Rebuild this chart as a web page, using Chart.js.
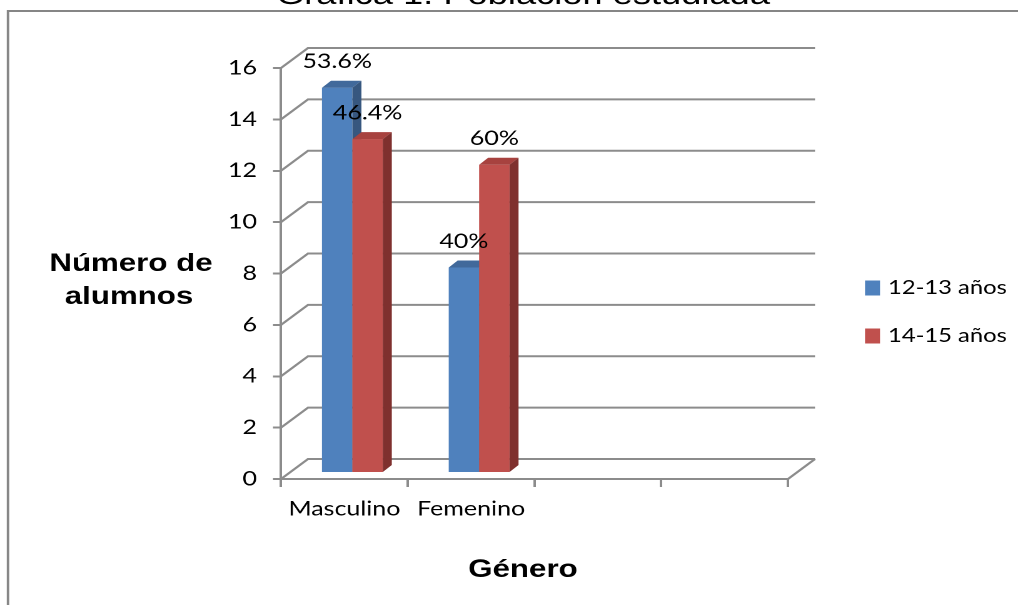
<!DOCTYPE html>
<html lang="es">
<head>
<meta charset="utf-8">
<title>Gráfica 1. Población estudiada</title>
<script src="https://cdn.jsdelivr.net/npm/chart.js@4.4.1/dist/chart.umd.min.js"></script>
<style>
  html, body { margin: 0; padding: 0; background: #fff; overflow: hidden; }
</style>
</head>
<body>
<canvas id="grafica" width="814" height="605" style="width:1018px;height:605px"></canvas>
<script>
// datos
const categorias = ["Masculino", "Femenino", "", ""];
const serie1213 = [15, 8, null, null];
const serie1415 = [13, 12, null, null];
const nombresSeries = ["12-13 años", "14-15 años"];
const marcasY = [0, 2, 4, 6, 8, 10, 12, 14, 16];

const colorFrente = ["#4f81bd", "#c0504d"];
const colorTapa = ["#41699b", "#a7423f"];
const colorLado = ["#37577f", "#7f302e"];
const GRIS = "#8c8c8c";

// the canvas is drawn narrower and stretched to 1018px wide by css
const ESTIRA = 1018 / 814;
const px = x => x / ESTIRA;

// 3d offsets: back wall, bar front plane, bar depth
const FONDO_X = px(27), FONDO_Y = -20;
const BARRA_X = px(8), BARRA_Y = -6;
const PROF_X = px(9), PROF_Y = -7;

function porcentaje(serie, j) {
  const total = serie1213[j] + serie1415[j];
  return +(serie[j] / total * 100).toFixed(1) + "%";
}

const tresD = {
  id: "tresD",
  beforeDraw(chart) {
    const ctx = chart.ctx;
    ctx.save();
    ctx.strokeStyle = "#868686";
    ctx.lineWidth = 2;
    ctx.beginPath();
    ctx.moveTo(px(8), chart.height);
    ctx.lineTo(px(8), 11);
    ctx.lineTo(chart.width, 11);
    ctx.stroke();

    ctx.fillStyle = "#000";
    ctx.textAlign = "center";
    ctx.textBaseline = "alphabetic";
    ctx.font = "29px 'Liberation Sans', Arial, sans-serif";
    ctx.fillText("Gráfica 1. Población estudiada", px(523), 4);

    ctx.font = "bold 25px 'Liberation Sans', Arial, sans-serif";
    ctx.fillText("Número de", px(131), 271);
    ctx.fillText("alumnos", px(129), 304);
    ctx.fillText("Género", px(523), 577);

    // legend
    ctx.textAlign = "left";
    ctx.textBaseline = "middle";
    ctx.font = "19px Lato, sans-serif";
    nombresSeries.forEach((n, i) => {
      const yy = 288 + i * 48;
      ctx.fillStyle = colorFrente[i];
      ctx.fillRect(px(865), yy - 7.5, px(15), 15);
      ctx.fillStyle = "#000";
      ctx.fillText(n, px(888), yy);
    });
    ctx.restore();
  },
  beforeDatasetsDraw(chart) {
    const { ctx, chartArea: a, scales: { y } } = chart;
    ctx.save();
    // side wall and back wall grid
    ctx.strokeStyle = GRIS;
    ctx.lineWidth = 2;
    y.ticks.forEach(t => {
      const yy = y.getPixelForValue(t.value);
      ctx.beginPath();
      ctx.moveTo(a.left, yy);
      ctx.lineTo(a.left + FONDO_X, yy + FONDO_Y);
      ctx.lineTo(a.right + FONDO_X, yy + FONDO_Y);
      ctx.stroke();
    });
    ctx.beginPath();
    ctx.moveTo(a.right, a.bottom);
    ctx.lineTo(a.right + FONDO_X, a.bottom + FONDO_Y);
    ctx.stroke();

    // columns, category by category so the red front covers the blue side
    const metas = chart.data.datasets.map((d, i) => chart.getDatasetMeta(i));
    const etiquetas = [];
    categorias.forEach((c, j) => {
      metas.forEach((meta, i) => {
        const serie = chart.data.datasets[i].data;
        if (serie[j] == null) return;
        const el = meta.data[j].getProps(["x", "y", "base", "width"], true);
        const izq = el.x - el.width / 2 + BARRA_X;
        const der = el.x + el.width / 2 + BARRA_X;
        const arriba = el.y + BARRA_Y;
        const abajo = el.base + BARRA_Y;

        ctx.fillStyle = colorFrente[i];
        ctx.fillRect(izq, arriba, der - izq, abajo - arriba);

        ctx.fillStyle = colorTapa[i];
        ctx.beginPath();
        ctx.moveTo(izq, arriba);
        ctx.lineTo(izq + PROF_X, arriba + PROF_Y);
        ctx.lineTo(der + PROF_X, arriba + PROF_Y);
        ctx.lineTo(der, arriba);
        ctx.closePath();
        ctx.fill();

        ctx.fillStyle = colorLado[i];
        ctx.beginPath();
        ctx.moveTo(der, arriba);
        ctx.lineTo(der + PROF_X, arriba + PROF_Y);
        ctx.lineTo(der + PROF_X, abajo + PROF_Y);
        ctx.lineTo(der, abajo);
        ctx.closePath();
        ctx.fill();

        etiquetas.push([porcentaje(serie, j), el.x + BARRA_X, arriba - 26]);
      });
    });

    ctx.fillStyle = "#000";
    ctx.font = "20px Lato, sans-serif";
    ctx.textAlign = "center";
    ctx.textBaseline = "middle";
    etiquetas.forEach(([t, xx, yy]) => ctx.fillText(t, xx, yy));
    ctx.restore();
    return false;
  }
};

new Chart(document.getElementById("grafica"), {
  type: "bar",
  data: {
    labels: categorias,
    datasets: [
      { label: nombresSeries[0], data: serie1213, backgroundColor: colorFrente[0] },
      { label: nombresSeries[1], data: serie1415, backgroundColor: colorFrente[1] }
    ]
  },
  options: {
    responsive: false,
    animation: false,
    devicePixelRatio: 2,
    layout: { padding: { top: 68, right: px(1018 - 788), left: 0, bottom: 0 } },
    datasets: { bar: { categoryPercentage: 0.48, barPercentage: 1 } },
    plugins: {
      legend: { display: false },
      tooltip: { enabled: false }
    },
    scales: {
      x: {
        offset: true,
        grid: { offset: true, drawOnChartArea: false, drawTicks: true, tickLength: 8, color: GRIS, lineWidth: 2 },
        border: { display: true, color: GRIS, width: 2 },
        ticks: { color: "#000", font: { family: "Lato", size: 20 }, padding: 10, maxRotation: 0, autoSkip: false },
        afterFit(s) { s.height = 605 - 479; }
      },
      y: {
        min: 0,
        max: 16,
        afterBuildTicks(s) { s.ticks = marcasY.map(v => ({ value: v })); },
        grid: { drawOnChartArea: false, drawTicks: true, tickLength: px(8), color: GRIS, lineWidth: 2 },
        border: { display: true, color: GRIS, width: 2 },
        ticks: { color: "#000", font: { family: "Lato", size: 20 }, padding: px(16) },
        afterFit(s) { s.width = px(281); }
      }
    }
  },
  plugins: [tresD]
});
</script>
</body>
</html>
